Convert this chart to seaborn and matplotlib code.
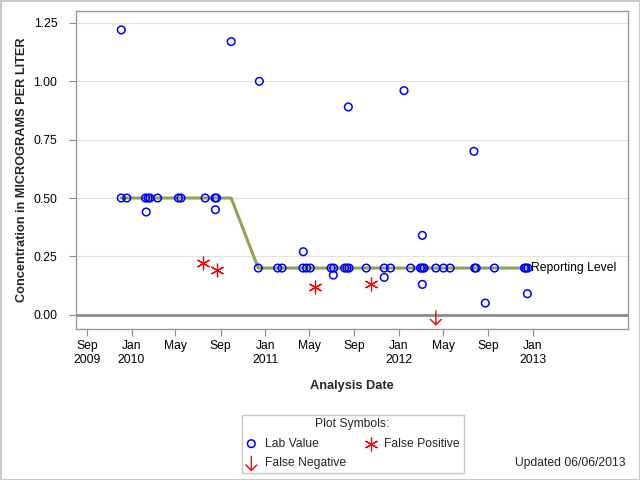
import matplotlib
matplotlib.use("Agg")
from matplotlib import pyplot as plt
from matplotlib.path import Path
import matplotlib.dates as mdates
import pandas as pd
import seaborn as sns

# lab results (date, concentration)
lab_dates = ['2009-12-04', '2009-12-04', '2009-12-19', '2010-02-08', '2010-02-10',
             '2010-02-15', '2010-02-20', '2010-03-13', '2010-05-09', '2010-05-16',
             '2010-07-21', '2010-08-17', '2010-08-18', '2010-08-21', '2010-09-30',
             '2010-12-13', '2010-12-16', '2011-02-04', '2011-02-16', '2011-04-14',
             '2011-04-15', '2011-04-24', '2011-05-04', '2011-06-30', '2011-07-06',
             '2011-07-07', '2011-08-06', '2011-08-12', '2011-08-16', '2011-08-18',
             '2011-10-04', '2011-11-22', '2011-11-22', '2011-12-09', '2012-01-15',
             '2012-02-02', '2012-02-29', '2012-03-05', '2012-03-05', '2012-03-05',
             '2012-03-10', '2012-04-11', '2012-05-02', '2012-05-20', '2012-07-24',
             '2012-07-26', '2012-07-30', '2012-08-24', '2012-09-18', '2012-12-09',
             '2012-12-13', '2012-12-17', '2012-12-18']
lab_values = [0.50, 1.22, 0.50, 0.50, 0.44,
              0.50, 0.50, 0.50, 0.50, 0.50,
              0.50, 0.50, 0.45, 0.50, 1.17,
              0.20, 1.00, 0.20, 0.20, 0.20,
              0.27, 0.20, 0.20, 0.20, 0.17,
              0.20, 0.20, 0.20, 0.89, 0.20,
              0.20, 0.20, 0.16, 0.20, 0.96,
              0.20, 0.20, 0.20, 0.34, 0.13,
              0.20, 0.20, 0.20, 0.20, 0.70,
              0.20, 0.20, 0.05, 0.20, 0.20,
              0.20, 0.09, 0.20]

fp_dates = ['2010-07-16', '2010-08-22', '2011-05-18', '2011-10-17']
fp_values = [0.22, 0.19, 0.12, 0.13]

fn_dates = ['2012-04-11']
fn_values = [-0.012]

rl_dates = ['2009-12-04', '2010-09-30', '2010-12-13', '2012-12-18']
rl_values = [0.5, 0.5, 0.2, 0.2]

tick_dates = ['2009-09-01', '2010-01-01', '2010-05-01', '2010-09-01', '2011-01-01',
              '2011-05-01', '2011-09-01', '2012-01-01', '2012-05-01', '2012-09-01',
              '2013-01-01']
tick_labels = ['Sep\n2009', 'Jan\n2010', 'May', 'Sep', 'Jan\n2011', 'May', 'Sep',
               'Jan\n2012', 'May', 'Sep', 'Jan\n2013']
y_ticks = [0.0, 0.25, 0.5, 0.75, 1.0, 1.25]

lab = pd.DataFrame({'date': pd.to_datetime(lab_dates), 'value': lab_values})
fp = pd.DataFrame({'date': pd.to_datetime(fp_dates), 'value': fp_values})
fn = pd.DataFrame({'date': pd.to_datetime(fn_dates), 'value': fn_values})
rl = pd.DataFrame({'date': pd.to_datetime(rl_dates), 'value': rl_values})

sns.set_theme(style="whitegrid")
plt.rcParams['font.family'] = ['Liberation Sans', 'DejaVu Sans']
FS = 8.7

fig = plt.figure(figsize=(6.4, 4.8), dpi=100)
fig.patch.set_edgecolor('#c8c8c8')
fig.patch.set_linewidth(2)
ax = fig.add_axes([0.118, 0.3146, 0.864, 0.662])

# down arrow marker for false negatives
arrow = Path([(0, 0.5), (0, -0.5), (-0.4, -0.1), (0, -0.5), (0.4, -0.1)],
             [Path.MOVETO, Path.LINETO, Path.MOVETO, Path.LINETO, Path.LINETO])

ax.axhline(0, color='#8c8c8c', lw=2, zorder=1)
sns.lineplot(data=rl, x='date', y='value', color='#8ea35a', lw=2.2, ax=ax, zorder=2)
sns.scatterplot(data=lab, x='date', y='value', marker='o', s=30, facecolor='none',
                edgecolor='blue', linewidth=1.1, ax=ax, zorder=3, label='Lab Value')
sns.scatterplot(data=fn, x='date', y='value', marker=arrow, s=110, facecolor='none',
                edgecolor='red', linewidth=1.0, ax=ax, zorder=3, label='False Negative')
sns.scatterplot(data=fp, x='date', y='value', marker=(6, 2, 0), s=85, color='red',
                edgecolor='red', linewidth=0.9, ax=ax, zorder=3, label='False Positive')

ax.annotate('Reporting Level', xy=(rl['date'].iloc[-1], rl['value'].iloc[-1]),
            xytext=(2, 0), textcoords='offset points', va='center', ha='left',
            fontsize=FS, color='black')

ax.set_xlim(pd.Timestamp('2009-08-01'), pd.Timestamp('2013-09-19'))
ax.set_ylim(-0.061, 1.30)
ax.set_xticks(mdates.date2num(pd.to_datetime(tick_dates)))
ax.set_xticklabels(tick_labels, fontsize=FS)
ax.set_yticks(y_ticks)
ax.set_yticklabels(['%.2f' % v for v in y_ticks], fontsize=FS)
ax.tick_params(axis='both', length=5, width=0.8, color='#8c8c8c', pad=3,
               bottom=True, left=True, labelcolor='black')
ax.tick_params(axis='y', pad=8)
ax.xaxis.grid(False)
ax.yaxis.grid(True, color='#e2e2e2', lw=0.9)
for sp in ax.spines.values():
    sp.set_color('#9a9a9a')
    sp.set_linewidth(1)

ax.set_xlabel('Analysis Date', fontsize=9.2, fontweight='bold', labelpad=10)
ax.set_ylabel('Concentration in MICROGRAMS PER LITER', fontsize=9.2,
              fontweight='bold', labelpad=4)

handles, labels = ax.get_legend_handles_labels()
ax.get_legend().remove()
leg = fig.legend(handles, labels, loc='upper center', bbox_to_anchor=(0.551, 0.136),
                 ncol=2, title='Plot Symbols:', fontsize=FS, title_fontsize=FS,
                 frameon=True, fancybox=False, edgecolor='#c8c8c8', framealpha=1,
                 handlelength=1.0, handletextpad=0.6, columnspacing=1.6,
                 labelspacing=0.62, borderpad=0.3, borderaxespad=0)
leg.get_frame().set_linewidth(1)

fig.text(0.977, 0.036, 'Updated 06/06/2013', ha='right', va='center', fontsize=FS)

fig.savefig('out.png', dpi=100, edgecolor=fig.get_edgecolor())
